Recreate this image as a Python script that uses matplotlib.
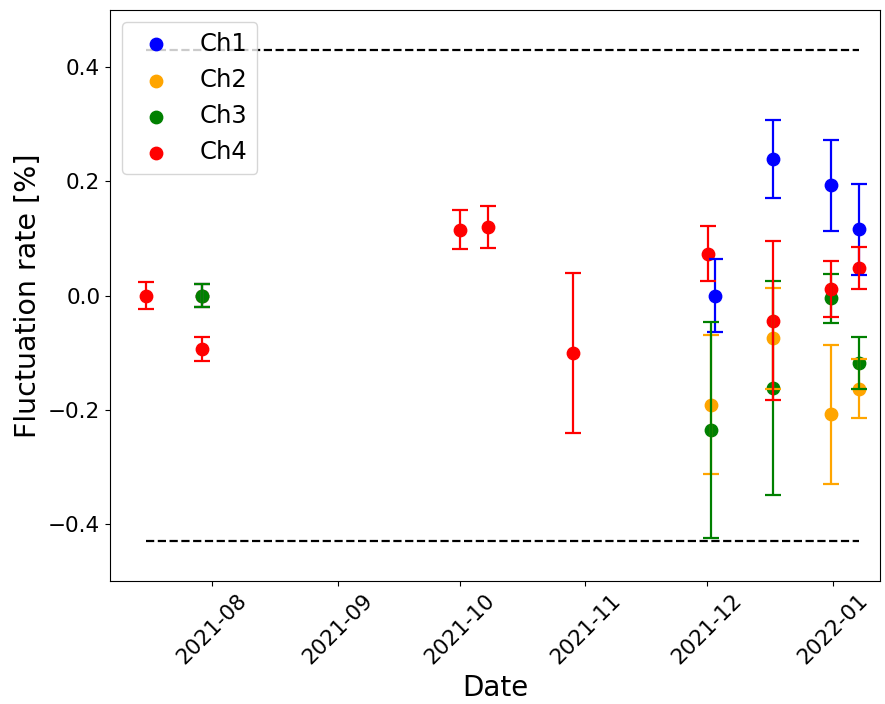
import matplotlib
matplotlib.use("Agg")
import matplotlib.pyplot as plt
import matplotlib.dates as mdates
from datetime import datetime

# measurement dates per channel
ch1_dates = ["2021-07-29 12:00", "2021-12-03 00:00", "2021-12-17 06:00",
             "2021-12-31 10:00", "2022-01-07 10:00"]
ch1_rate = [0.0, 0.0, 0.239, 0.193, 0.116]
ch1_err = [0.02, 0.064, 0.068, 0.080, 0.080]

ch2_dates = ["2021-07-29 12:00", "2021-12-02 00:00", "2021-12-17 06:00",
             "2021-12-31 10:00", "2022-01-07 10:00"]
ch2_rate = [0.0, -0.191, -0.075, -0.208, -0.163]
ch2_err = [0.021, 0.122, 0.088, 0.122, 0.051]

ch3_dates = ["2021-07-29 12:00", "2021-12-02 00:00", "2021-12-17 06:00",
             "2021-12-31 10:00", "2022-01-07 10:00"]
ch3_rate = [0.0, -0.235, -0.162, -0.005, -0.118]
ch3_err = [0.02, 0.189, 0.187, 0.0425, 0.046]

ch4_dates = ["2021-07-15 18:00", "2021-07-29 12:00", "2021-10-01 00:00",
             "2021-10-08 00:00", "2021-10-29 00:00", "2021-12-01 06:00",
             "2021-12-17 06:00", "2021-12-31 10:00", "2022-01-07 10:00"]
ch4_rate = [0.0, -0.094, 0.115, 0.120, -0.100, 0.073, -0.044, 0.012, 0.048]
ch4_err = [0.024, 0.0205, 0.034, 0.037, 0.14, 0.048, 0.139, 0.049, 0.037]

limit = 0.43

channels = [
    ("Ch1", "blue", ch1_dates, ch1_rate, ch1_err),
    ("Ch2", "orange", ch2_dates, ch2_rate, ch2_err),
    ("Ch3", "green", ch3_dates, ch3_rate, ch3_err),
    ("Ch4", "red", ch4_dates, ch4_rate, ch4_err),
]

fig = plt.figure(figsize=(8.85, 7.04), dpi=100)
ax = fig.add_axes([110 / 885, 1 - 581 / 704, 770 / 885, 571 / 704])

all_dates = []
for name, color, dates, rate, err in channels:
    d = [datetime.strptime(s, "%Y-%m-%d %H:%M") for s in dates]
    all_dates += d
    ax.scatter(d, rate, color=color, s=80, label=name)
    ax.errorbar(d, rate, yerr=err, fmt="none", ecolor=color,
                capsize=6, elinewidth=1.6, capthick=1.6)

start, end = min(all_dates), max(all_dates)
ax.hlines([limit, -limit], start, end, colors="black", linestyles="--", lw=1.6)

ax.set_xlim(datetime(2021, 7, 6, 21), datetime(2022, 1, 12, 14))
ax.set_ylim(-0.5, 0.5)
ax.set_yticks([-0.4, -0.2, 0.0, 0.2, 0.4])
ax.xaxis.set_major_locator(mdates.MonthLocator())
ax.xaxis.set_major_formatter(mdates.DateFormatter("%Y-%m"))
plt.xticks(rotation=45)
ax.tick_params(labelsize=15.5)
ax.set_xlabel("Date", fontsize=20)
ax.set_ylabel("Fluctuation rate [%]", fontsize=20.5)
ax.legend(loc="upper left", fontsize=17.5)

fig.savefig("out.png", dpi=100)
